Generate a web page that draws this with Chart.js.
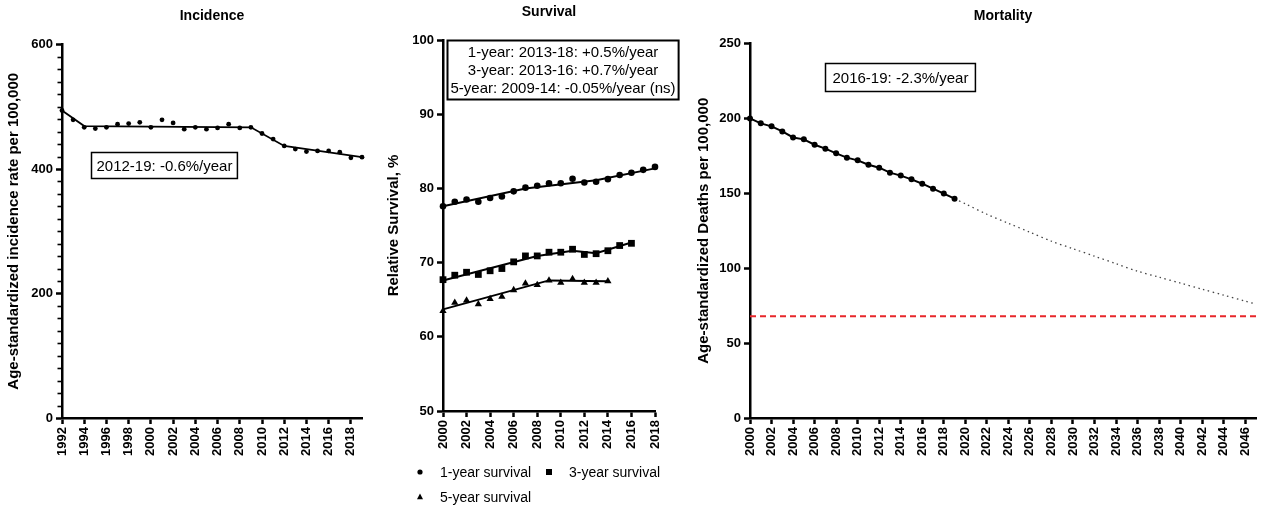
<!DOCTYPE html>
<html>
<head>
<meta charset="utf-8">
<title>Incidence, survival and mortality</title>
<script src="https://cdn.jsdelivr.net/npm/chart.js@4/dist/chart.umd.min.js"></script>
<style>
  body { margin: 0; background: #fff; width: 1265px; height: 508px; position: relative; overflow: hidden; }
  canvas { position: absolute; top: 0; }
</style>
</head>
<body>
<canvas id="incidence" width="380" height="508" style="left:0"></canvas>
<canvas id="survival" width="310" height="508" style="left:380px"></canvas>
<canvas id="mortality" width="575" height="508" style="left:690px"></canvas>
<script>
// ---- Incidence (per 100,000), 1992-2019 ----
const incidenceYears = [1992, 1993, 1994, 1995, 1996, 1997, 1998, 1999, 2000, 2001, 2002, 2003, 2004, 2005,
  2006, 2007, 2008, 2009, 2010, 2011, 2012, 2013, 2014, 2015, 2016, 2017, 2018, 2019];
const incidenceRate = [494, 479, 467, 465, 467, 472, 473, 475, 467, 479, 474, 464, 467, 464,
  466, 472, 466, 467, 457, 448, 437, 432, 428, 429, 429, 427, 418, 419];
// joinpoint fit
const incidenceFitYears = [1992, 1994, 2009, 2012, 2019];
const incidenceFit = [494, 469, 467, 437, 419];

// ---- Relative survival (%), by diagnosis year ----
const survivalYears = [2000, 2001, 2002, 2003, 2004, 2005, 2006, 2007, 2008, 2009, 2010, 2011, 2012,
  2013, 2014, 2015, 2016, 2017, 2018];
const oneYearSurvival = [77.6, 78.2, 78.5, 78.2, 78.7, 78.9, 79.6, 80.1, 80.35, 80.7, 80.7, 81.3, 80.8,
  80.9, 81.25, 81.8, 82.1, 82.5, 82.9];
const threeYearSurvival = [67.7, 68.3, 68.7, 68.4, 68.9, 69.2, 70.1, 70.9, 70.9, 71.4, 71.4, 71.8, 71.1,
  71.2, 71.6, 72.3, 72.6];
const fiveYearSurvival = [63.5, 64.6, 64.9, 64.4, 65.1, 65.4, 66.3, 67.2, 67.0, 67.6, 67.3, 67.8, 67.3,
  67.3, 67.5];
const oneYearFitYears = [2000, 2007, 2013, 2018];
const oneYearFit = [77.6, 80.0, 81.1, 82.7];
const threeYearFitYears = [2000, 2008, 2011, 2013, 2016];
const threeYearFit = [67.6, 70.9, 71.6, 71.25, 72.7];
const fiveYearFitYears = [2000, 2009, 2014];
const fiveYearFit = [63.7, 67.6, 67.5];

// ---- Mortality (deaths per 100,000) ----
const mortalityYears = [2000, 2001, 2002, 2003, 2004, 2005, 2006, 2007, 2008, 2009, 2010, 2011, 2012,
  2013, 2014, 2015, 2016, 2017, 2018, 2019];
const mortalityRate = [200, 196.7, 194.7, 191.3, 187.3, 186, 182.4, 179.8, 176.7, 173.8, 172, 169.1, 167.1,
  163.8, 161.8, 159.3, 156.4, 153.1, 149.8, 146.4];
const projectionYears = [2019, 2020, 2022, 2024, 2026, 2028, 2030, 2032, 2034, 2036, 2038, 2040, 2042, 2044, 2046, 2047];
const projectionRate = [146.4, 143, 136, 130, 124, 118, 113, 108, 103, 98, 94, 90, 86, 82, 78, 76];
const targetYears = [2000, 2047];
const targetRate = [68, 68];

const FONT = "'Liberation Sans', Arial, Helvetica, sans-serif";
Chart.defaults.font.family = FONT;
Chart.defaults.color = '#000';
Chart.defaults.animation = false;

const pts = (xs, ys) => xs.map((x, i) => ({ x, y: ys[i] }));

function yAxis(min, max, step, width, title) {
  return {
    type: 'linear', min, max,
    afterFit: s => { s.width = width; },
    border: { display: true, color: '#000', width: 2.5 },
    grid: { drawOnChartArea: false, drawTicks: true, tickLength: 6, tickColor: '#000', tickWidth: 2.5 },
    ticks: { stepSize: step, autoSkip: false, padding: 3, font: { size: 13, weight: 'bold' },
      callback: v => String(v) },
    title: { display: true, text: title, font: { size: 15, weight: 'bold' }, padding: { top: 5, bottom: 0 } }
  };
}

function xAxis(min, max, height) {
  return {
    type: 'linear', min, max,
    afterFit: s => { s.height = height; },
    border: { display: true, color: '#000', width: 2.5 },
    grid: { drawOnChartArea: false, drawTicks: true, tickLength: 6, tickColor: '#000', tickWidth: 2.5 },
    ticks: { stepSize: 2, includeBounds: false, autoSkip: false, minRotation: 90, maxRotation: 90,
      padding: 3, font: { size: 13, weight: 'bold' }, callback: v => String(v) }
  };
}

function marks(data, style, radius) {
  return { data, showLine: false, pointStyle: style, pointRadius: radius, pointHoverRadius: radius,
    pointBackgroundColor: '#000', pointBorderWidth: 0, clip: false };
}

function fitLine(data, width) {
  return { data, showLine: true, borderColor: '#000', borderWidth: width || 2, pointRadius: 0,
    tension: 0, clip: false };
}

function drawMarker(ctx, style, x, y, r) {
  ctx.beginPath();
  if (style === 'rect') {
    ctx.rect(x - r, y - r, 2 * r, 2 * r);
  } else if (style === 'triangle') {
    ctx.moveTo(x, y - r * 1.15);
    ctx.lineTo(x + r, y + r * 0.75);
    ctx.lineTo(x - r, y + r * 0.75);
    ctx.closePath();
  } else {
    ctx.arc(x, y, r, 0, Math.PI * 2);
  }
  ctx.fill();
}

// panel title, boxed annotations, minor ticks and a hand-laid legend
const panelDecor = {
  id: 'panelDecor',
  afterDraw(chart, args, opts) {
    const { ctx, chartArea, scales } = chart;
    ctx.save();
    ctx.fillStyle = '#000';
    ctx.strokeStyle = '#000';

    if (opts.minorStep) {
      const ys = scales.y;
      ctx.lineWidth = 1.6;
      for (let v = ys.min; v <= ys.max; v += opts.minorStep) {
        if (v % ys.options.ticks.stepSize === 0) continue;
        const py = Math.round(ys.getPixelForValue(v)) + 0.5;
        ctx.beginPath();
        ctx.moveTo(chartArea.left - 4.5, py);
        ctx.lineTo(chartArea.left, py);
        ctx.stroke();
      }
    }

    if (opts.title) {
      ctx.font = 'bold 14px ' + FONT;
      ctx.textAlign = 'center';
      ctx.textBaseline = 'middle';
      ctx.fillText(opts.title, (chartArea.left + chartArea.right) / 2, opts.titleY);
    }

    (opts.boxes || []).forEach(b => {
      ctx.font = '15px ' + FONT;
      const lineH = b.lineHeight || 18;
      const w = Math.max(...b.lines.map(l => ctx.measureText(l).width)) + 2 * b.padX;
      const h = b.lines.length * lineH + 2 * b.padY;
      const x = Math.round(scales.x.getPixelForValue(b.x)) + 0.5;
      const y = Math.round(scales.y.getPixelForValue(b.y)) + 0.5;
      ctx.fillStyle = '#fff';
      ctx.fillRect(x, y, w, h);
      ctx.lineWidth = b.border || 1.5;
      ctx.strokeRect(x, y, w, h);
      ctx.fillStyle = '#000';
      ctx.textAlign = 'center';
      ctx.textBaseline = 'middle';
      b.lines.forEach((l, i) => ctx.fillText(l, x + w / 2, y + b.padY + lineH * (i + 0.5) + 1));
    });

    (opts.legend || []).forEach(item => {
      drawMarker(ctx, item.style, item.x, item.y, item.r);
      ctx.font = '14px ' + FONT;
      ctx.textAlign = 'left';
      ctx.textBaseline = 'middle';
      ctx.fillText(item.text, item.x + 20, item.y + 1);
    });
    ctx.restore();
  }
};

new Chart(document.getElementById('incidence'), {
  type: 'scatter',
  data: {
    datasets: [
      marks(pts(incidenceYears, incidenceRate), 'circle', 2.4),
      fitLine(pts(incidenceFitYears, incidenceFit), 1.8)
    ]
  },
  options: {
    responsive: false,
    layout: { padding: { top: 44.5, right: 18, left: 0, bottom: 0 } },
    scales: {
      x: xAxis(1992, 2019, 90),
      y: yAxis(0, 600, 200, 62, 'Age-standardized incidence rate per 100,000')
    },
    plugins: {
      legend: { display: false }, tooltip: { enabled: false },
      panelDecor: {
        title: 'Incidence', titleY: 16, minorStep: 20,
        boxes: [{ x: 1994.6, y: 428, lines: ['2012-19: -0.6%/year'], padX: 5, padY: 4 }]
      }
    }
  },
  plugins: [panelDecor]
});

new Chart(document.getElementById('survival'), {
  type: 'scatter',
  data: {
    datasets: [
      marks(pts(survivalYears, oneYearSurvival), 'circle', 3.3),
      marks(pts(survivalYears, threeYearSurvival), 'rect', 4.8),
      marks(pts(survivalYears, fiveYearSurvival), 'triangle', 4.2),
      fitLine(pts(oneYearFitYears, oneYearFit)),
      fitLine(pts(threeYearFitYears, threeYearFit)),
      fitLine(pts(fiveYearFitYears, fiveYearFit))
    ]
  },
  options: {
    responsive: false,
    layout: { padding: { top: 40, right: 35, left: 0, bottom: 0 } },
    scales: {
      x: xAxis(2000, 2018, 97),
      y: yAxis(50, 100, 10, 63, 'Relative Survival, %')
    },
    plugins: {
      legend: { display: false }, tooltip: { enabled: false },
      panelDecor: {
        title: 'Survival', titleY: 12,
        boxes: [{
          x: 2000.3, y: 100, padX: 3, padY: 2.5, lineHeight: 18, border: 2,
          lines: ['1-year: 2013-18: +0.5%/year', '3-year: 2013-16: +0.7%/year', '5-year: 2009-14: -0.05%/year (ns)']
        }],
        legend: [
          { style: 'circle', x: 40, y: 472, r: 2.6, text: '1-year survival' },
          { style: 'rect', x: 169, y: 472, r: 3, text: '3-year survival' },
          { style: 'triangle', x: 40, y: 497, r: 3, text: '5-year survival' }
        ]
      }
    }
  },
  plugins: [panelDecor]
});

new Chart(document.getElementById('mortality'), {
  type: 'scatter',
  data: {
    datasets: [
      { ...marks(pts(mortalityYears, mortalityRate), 'circle', 3), showLine: true, borderColor: '#000', borderWidth: 2 },
      { data: pts(projectionYears, projectionRate), showLine: true, borderColor: '#444', borderWidth: 1.3,
        borderDash: [1.5, 3.5], pointRadius: 0, tension: 0.3, clip: false },
      { data: pts(targetYears, targetRate), showLine: true, borderColor: '#e8262a', borderWidth: 2,
        borderDash: [6, 4], pointRadius: 0 }
    ]
  },
  options: {
    responsive: false,
    layout: { padding: { top: 43.5, right: 9, left: 0, bottom: 0 } },
    scales: {
      x: xAxis(2000, 2047, 90),
      y: yAxis(0, 250, 50, 60, 'Age-standardized Deaths per 100,000')
    },
    plugins: {
      legend: { display: false }, tooltip: { enabled: false },
      panelDecor: {
        title: 'Mortality', titleY: 16,
        boxes: [{ x: 2007, y: 237, lines: ['2016-19: -2.3%/year'], padX: 7, padY: 5 }]
      }
    }
  },
  plugins: [panelDecor]
});
</script>
</body>
</html>
